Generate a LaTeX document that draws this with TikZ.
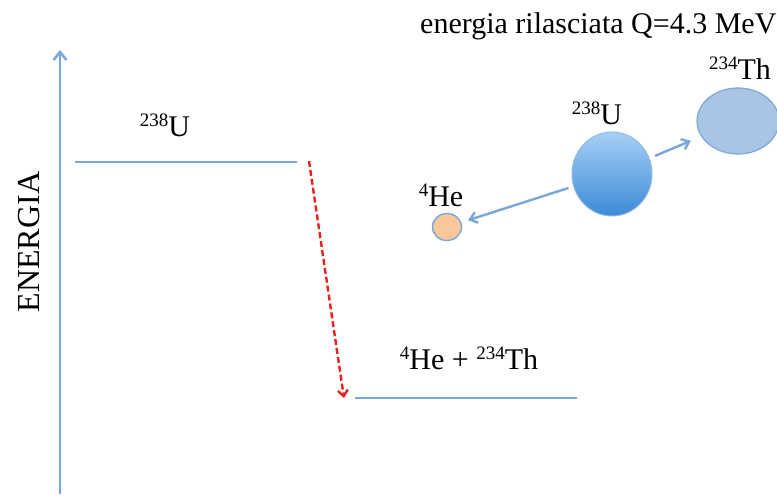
\documentclass[tikz,border=0pt]{standalone}
\usepackage{fontspec}
\setmainfont{Liberation Serif}
\usetikzlibrary{arrows.meta,shapes.geometric}
\definecolor{lineblue}{HTML}{7AA7D9}
\definecolor{thfill}{HTML}{A8C5E6}
\definecolor{thborder}{HTML}{7FA6D6}
\definecolor{hefill}{HTML}{F8C89C}
\definecolor{utop}{HTML}{A6CFF6}
\definecolor{ubot}{HTML}{3C8AD6}
\definecolor{dashred}{HTML}{E8231F}
\newcommand\mysup[1]{\raisebox{0.36em}{\fontsize{19}{19}\selectfont #1}}
\tikzset{
  x=1pt,y=-1pt,
  lbl/.style={font=\fontsize{30}{34}\selectfont, inner sep=0pt, anchor=base},
  level/.style={draw=lineblue, line width=2.6pt},
  blarrow/.style={draw=lineblue, line width=2.4pt, -{Straight Barb[length=7pt,width=11pt]}},
}
\begin{document}
\begin{tikzpicture}
\useasboundingbox (0,0) rectangle (777,497);
\fill[white] (0,0) rectangle (777,497);
% axis
\coordinate (axbot) at (60,494);
\coordinate (axtop) at (60,50);
\draw[draw=lineblue, line width=2.6pt, -{Straight Barb[length=8pt,width=13pt]}] (axbot) -- (axtop);
\node[lbl, anchor=center, rotate=90, font=\fontsize{32}{36}\selectfont] (energia) at (29,242) {ENERGIA};
% levels
\draw[level] (75,162) -- (297,162);
\node[lbl] (ulev) at (165,137) {\mysup{238}U};
\draw[level] (355,398) -- (577,398);
\node[lbl] (plev) at (469,370) {\mysup{4}He + \mysup{234}Th};
% red dashed transition
\coordinate (dstart) at (309,161);
\coordinate (dend) at (344,398);
\draw[draw=dashred, line width=2.4pt, dash pattern=on 6pt off 3pt, -{Straight Barb[length=6pt,width=10pt]}] (dstart) -- (dend);
% title
\node[lbl, anchor=base west] (title) at (420,34) {energia rilasciata Q=4.3 MeV};
% particles
\node[draw=lineblue!80!white, line width=1pt, ellipse, minimum width=80pt, minimum height=84pt, inner sep=0pt, top color=utop, bottom color=ubot] (U) at (612,174) {};
\node[lbl] (ulab) at (597,125) {\mysup{238}U};
\node[draw=lineblue, line width=1.4pt, fill=hefill, ellipse, minimum width=29pt, minimum height=27pt, inner sep=0pt] (he) at (447,227) {};
\node[lbl] (helab) at (441,207) {\mysup{4}He};
\node[draw=thborder, line width=1.2pt, fill=thfill, ellipse, minimum width=82pt, minimum height=66pt, inner sep=0pt] (th) at (738,121) {};
\node[lbl] (thlab) at (740,80) {\mysup{234}Th};
% emission arrows
\draw[blarrow, shorten <=5pt, shorten >=7pt] (U) -- (he);
\draw[blarrow, shorten <=6pt, shorten >=11pt] (U) -- (th);
\end{tikzpicture}
\end{document}
